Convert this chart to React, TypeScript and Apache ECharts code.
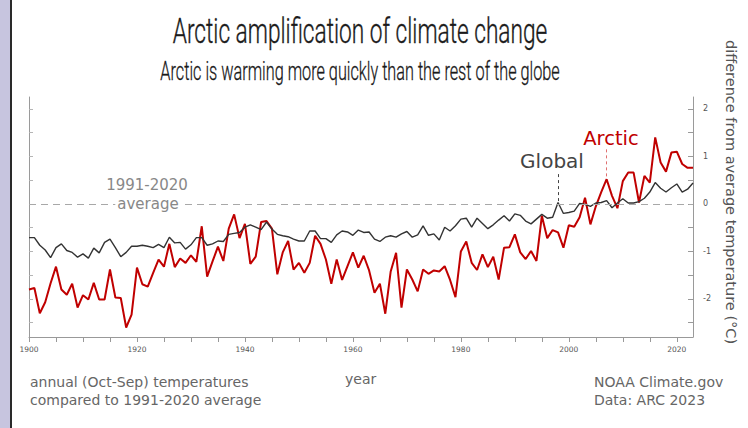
import React, { useEffect, useRef } from "react";
import * as echarts from "echarts";

const FIRST_YEAR = 1900;
const GLOBAL = [
  -0.71, -0.71, -0.87, -0.97, -1.13, -0.92, -0.84, -0.98, -1.02, -1.12,
  -1.05, -1.14, -0.93, -1.03, -0.81, -0.74, -0.92, -1.11, -1.02, -0.89,
  -0.89, -0.87, -0.89, -0.92, -0.85, -0.92, -0.7, -0.82, -0.81, -0.95,
  -0.86, -0.71, -0.71, -0.87, -0.84, -0.78, -0.79, -0.64, -0.62, -0.6,
  -0.49, -0.44, -0.49, -0.54, -0.38, -0.53, -0.64, -0.67, -0.69, -0.74,
  -0.78, -0.78, -0.57, -0.57, -0.73, -0.73, -0.81, -0.65, -0.57, -0.59,
  -0.66, -0.55, -0.6, -0.59, -0.74, -0.79, -0.7, -0.67, -0.7, -0.63,
  -0.58, -0.7, -0.65, -0.46, -0.66, -0.63, -0.76, -0.49, -0.57, -0.46,
  -0.32, -0.3, -0.49, -0.3, -0.41, -0.52, -0.44, -0.34, -0.25, -0.36,
  -0.21, -0.24, -0.36, -0.42, -0.32, -0.22, -0.3, -0.28, 0.03, -0.2,
  -0.18, -0.15, 0.01, -0.01, -0.05, 0.02, 0.03, 0.07, -0.08, 0.02,
  0.11, 0.02, 0.02, 0.05, 0.12, 0.25, 0.45, 0.33, 0.25, 0.34,
  0.42, 0.25, 0.31, 0.44,
];
const ARCTIC = [
  -1.8, -1.77, -2.3, -2.07, -1.67, -1.32, -1.8, -1.91, -1.68, -2.18,
  -1.92, -2.01, -1.66, -2.01, -2.01, -1.38, -1.97, -1.98, -2.6, -2.33,
  -1.34, -1.69, -1.74, -1.45, -1.17, -1.32, -0.84, -1.33, -1.15, -1.24,
  -1.08, -1.22, -0.47, -1.53, -1.21, -0.9, -1.2, -0.52, -0.22, -0.72,
  -0.42, -1.26, -1.11, -0.38, -0.36, -0.52, -1.48, -1.02, -0.78, -1.38,
  -1.24, -1.45, -1.24, -0.67, -0.84, -1.17, -1.68, -1.17, -1.6, -1.31,
  -1.02, -1.34, -1.09, -1.4, -1.87, -1.68, -2.31, -1.42, -1.03, -2.18,
  -1.38, -1.59, -1.84, -1.38, -1.47, -1.4, -1.42, -1.31, -1.6, -1.96,
  -1.0, -0.79, -1.24, -1.39, -1.06, -1.33, -1.11, -1.59, -0.92, -0.91,
  -0.64, -1.02, -1.16, -0.99, -1.2, -0.25, -0.72, -0.55, -0.6, -0.92,
  -0.45, -0.48, -0.28, 0.13, -0.43, -0.05, 0.25, 0.52, 0.17, -0.09,
  0.48, 0.66, 0.66, 0.03, 0.59, 0.45, 1.4, 0.87, 0.68, 1.08,
  1.1, 0.84, 0.76, 0.76,
];
const YEARS = GLOBAL.map((_, i) => FIRST_YEAR + i);
const X_LABEL_STEP = 20;
const X_TICK_STEP = 5;
const Y_LABELS = [-2, -1, 0, 1, 2];
const Y_TICKS = [-2.5, -2, -1.5, -1, -0.5, 0, 0.5, 1, 1.5, 2];
const GLOBAL_NOTE_YEAR = 1998;
const ARCTIC_NOTE_YEAR = 2007;

export default function App() {
  const ref = useRef<HTMLDivElement>(null);
  useEffect(() => {
    if (!ref.current) return;
    const chart = echarts.init(ref.current, null, { renderer: "svg" });
    const font = "DejaVu Sans";
    const gIdx = YEARS.indexOf(GLOBAL_NOTE_YEAR);
    const aIdx = YEARS.indexOf(ARCTIC_NOTE_YEAR);
    const yAxisBase = {
      type: "value",
      min: -2.8,
      max: 2.25,
      splitLine: { show: false },
      axisLine: { show: true, onZero: false, lineStyle: { color: "#9a9a9a", width: 1 } },
    };
    chart.setOption({
      animation: false,
      backgroundColor: "#ffffff",
      grid: { left: 29, right: 55, top: 97, bottom: 91 },
      xAxis: {
        type: "value",
        min: 1900,
        max: 2023,
        interval: X_TICK_STEP,
        splitLine: { show: false },
        axisLine: { show: true, onZero: false, lineStyle: { color: "#999", width: 1 } },
        axisTick: {
          show: true,
          inside: false,
          length: 5,
          lineStyle: { color: "#999", width: 1 },
        },
        axisLabel: {
          fontSize: 7.5,
          color: "#555",
          fontFamily: font,
          margin: 8,
          hideOverlap: false,
          showMaxLabel: false,
          formatter: (v: number) => (v % X_LABEL_STEP === 0 ? String(v) : ""),
        },
      },
      yAxis: [
        {
          ...yAxisBase,
          position: "right",
          axisTick: {
            show: true,
            inside: true,
            length: 5,
            customValues: Y_TICKS,
            lineStyle: { color: "#9a9a9a" },
          },
          axisLabel: {
            fontSize: 8,
            color: "#555",
            fontFamily: font,
            margin: 10,
            customValues: Y_LABELS,
            formatter: (v: number) => String(v),
          },
        },
        {
          ...yAxisBase,
          position: "left",
          axisTick: {
            show: true,
            inside: true,
            length: 4,
            customValues: Y_TICKS,
            lineStyle: { color: "#b5b5b5" },
          },
          axisLabel: { show: false },
        },
      ],
      series: [
        {
          type: "line",
          name: "Arctic",
          yAxisIndex: 0,
          data: YEARS.map((y, i) => [y, ARCTIC[i]]),
          showSymbol: false,
          symbol: "none",
          lineStyle: { color: "#c00000", width: 2 },
          z: 3,
          markLine: {
            silent: true,
            symbol: "none",
            label: { show: false },
            lineStyle: { color: "#e07070", type: [3, 3], width: 1 },
            data: [
              [
                { coord: [ARCTIC_NOTE_YEAR, ARCTIC[aIdx] + 0.06] },
                { coord: [ARCTIC_NOTE_YEAR, 1.16] },
              ],
            ],
          },
        },
        {
          type: "line",
          name: "Global",
          yAxisIndex: 0,
          data: YEARS.map((y, i) => [y, GLOBAL[i]]),
          showSymbol: false,
          symbol: "none",
          lineStyle: { color: "#333333", width: 1.4 },
          z: 4,
          markLine: {
            silent: true,
            symbol: "none",
            label: { show: false },
            data: [
              {
                yAxis: 0,
                lineStyle: { color: "#a8a8a8", type: [7, 5], width: 1 },
              },
              [
                {
                  coord: [GLOBAL_NOTE_YEAR, GLOBAL[gIdx] + 0.03],
                  lineStyle: { color: "#444", type: [3, 3], width: 1 },
                },
                { coord: [GLOBAL_NOTE_YEAR, 0.66] },
              ],
            ],
          },
        },
      ],
      graphic: [
        { type: "rect", shape: { x: 0, y: 0, width: 10, height: 428 }, style: { fill: "#c7c5df" } },
        { type: "rect", shape: { x: 10, y: 0, width: 2, height: 428 }, style: { fill: "#2a2a2a" } },
        {
          type: "text",
          x: 360,
          y: 30,
          scaleX: 0.63,
          style: {
            text: "Arctic amplification of climate change",
            font: "300 36px Roboto",
            fill: "#1a1a1a",
            stroke: "#1a1a1a",
            lineWidth: 0.4,
            textAlign: "center",
            textVerticalAlign: "middle",
          },
        },
        {
          type: "text",
          x: 360,
          y: 71,
          scaleX: 0.65,
          style: {
            text: "Arctic is warming more quickly than the rest of the globe",
            font: "300 25px Roboto",
            fill: "#1a1a1a",
            stroke: "#1a1a1a",
            lineWidth: 0.3,
            textAlign: "center",
            textVerticalAlign: "middle",
          },
        },
        {
          type: "text",
          x: 731,
          y: 192,
          rotation: -Math.PI / 2,
          style: {
            text: "difference from average temperature (°C)",
            font: "14.5px 'DejaVu Sans'",
            fill: "#555",
            textAlign: "center",
            textVerticalAlign: "middle",
          },
        },
        {
          type: "text",
          x: 147,
          y: 185,
          style: {
            text: "1991-2020",
            font: "15px 'DejaVu Sans'",
            fill: "#888",
            textAlign: "center",
            textVerticalAlign: "middle",
          },
          z: 10,
        },
        {
          type: "text",
          x: 148,
          y: 204,
          style: {
            text: "average",
            font: "15px 'DejaVu Sans'",
            fill: "#888",
            textAlign: "center",
            textVerticalAlign: "middle",
            backgroundColor: "#ffffff",
            padding: [0, 2],
          },
          z: 10,
        },
        {
          type: "text",
          x: 552,
          y: 161,
          style: {
            text: "Global",
            font: "20px 'DejaVu Sans'",
            fill: "#444",
            textAlign: "center",
            textVerticalAlign: "middle",
          },
          z: 10,
        },
        {
          type: "text",
          x: 611,
          y: 138,
          style: {
            text: "Arctic",
            font: "19.5px 'DejaVu Sans'",
            fill: "#c00000",
            textAlign: "center",
            textVerticalAlign: "middle",
          },
          z: 10,
        },
        {
          type: "text",
          x: 30,
          y: 382,
          style: {
            text: "annual (Oct-Sep) temperatures",
            font: "14px 'DejaVu Sans'",
            fill: "#666",
            textVerticalAlign: "middle",
          },
        },
        {
          type: "text",
          x: 30,
          y: 400,
          style: {
            text: "compared to 1991-2020 average",
            font: "14px 'DejaVu Sans'",
            fill: "#666",
            textVerticalAlign: "middle",
          },
        },
        {
          type: "text",
          x: 345,
          y: 379,
          style: { text: "year", font: "14px 'DejaVu Sans'", fill: "#666", textVerticalAlign: "middle" },
        },
        {
          type: "text",
          x: 594,
          y: 382,
          style: {
            text: "NOAA Climate.gov",
            font: "14px 'DejaVu Sans'",
            fill: "#666",
            textVerticalAlign: "middle",
          },
        },
        {
          type: "text",
          x: 594,
          y: 400,
          style: {
            text: "Data: ARC 2023",
            font: "14px 'DejaVu Sans'",
            fill: "#666",
            textVerticalAlign: "middle",
          },
        },
      ],
    });
    return () => chart.dispose();
  }, []);
  return (
    <div
      ref={ref}
      style={{ position: "fixed", left: 0, top: 0, width: 748, height: 428 }}
    />
  );
}
